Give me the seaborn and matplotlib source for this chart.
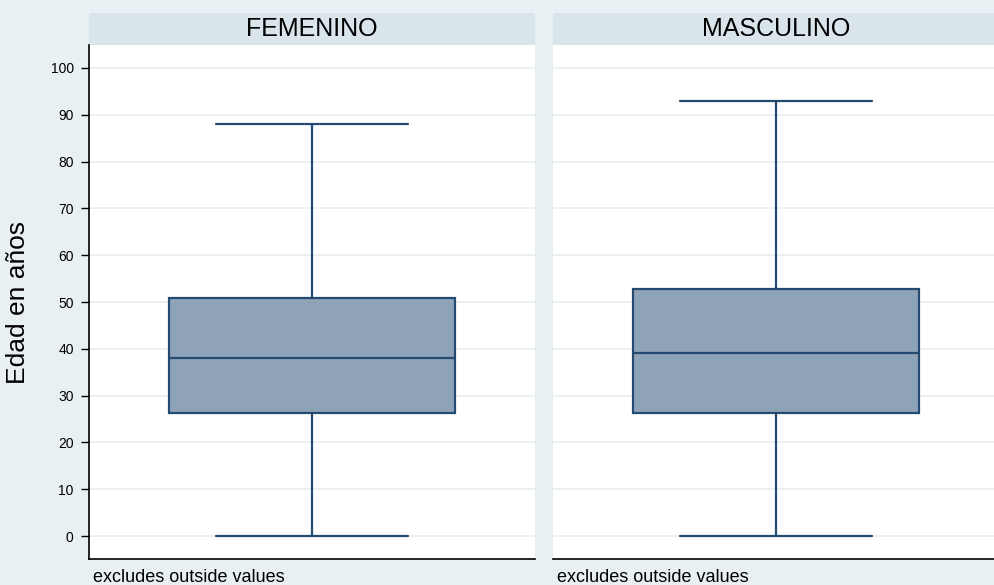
import numpy as np
import pandas as pd
import matplotlib.pyplot as plt
import seaborn as sns
from matplotlib.patches import Rectangle

# five-number summaries (min, q1, median, q3, max)
sexo = ["FEMENINO", "MASCULINO"]
edad_fem = [0, 26.3, 38.0, 50.85, 88]
edad_masc = [0, 26.3, 39.1, 52.8, 93]
yticks = list(range(0, 101, 10))

df = pd.DataFrame({
    "sexo": [sexo[0]] * len(edad_fem) + [sexo[1]] * len(edad_masc),
    "edad": edad_fem + edad_masc,
})

sns.set_style("white")
plt.rcParams["font.family"] = ["Liberation Sans", "DejaVu Sans"]
plt.rcParams["text.color"] = "black"

bg = "#e9f0f3"
strip = "#d9e5eb"
fill = "#8ea3b8"
edge = "#244a70"

fig = plt.figure(figsize=(9.94, 5.85), dpi=100, facecolor=bg)
W, H = 994, 585
bot, top = 559, 45
ax1 = fig.add_axes([89 / W, (H - bot) / H, (535 - 89) / W, (bot - top) / H])
ax2 = fig.add_axes([553 / W, (H - bot) / H, (999 - 553) / W, (bot - top) / H])

for ax, s in zip([ax1, ax2], sexo):
    sub = df[df["sexo"] == s]
    sns.boxplot(data=sub, y="edad", ax=ax, whis=(0, 100), width=0.64,
                color=fill, linecolor=edge, linewidth=1.6, saturation=1,
                capwidths=0.43)
    ax.set_facecolor("white")
    ax.set_ylim(-4.9, 104.9)
    ax.set_xlim(-0.5, 0.5)
    ax.set_yticks(yticks)
    ax.yaxis.grid(True, color="#e8eff2", lw=1.3)
    ax.set_axisbelow(True)
    ax.set_xticks([])
    ax.set_xlabel("")
    ax.set_ylabel("")
    for sp in ["top", "right"]:
        ax.spines[sp].set_visible(False)
    ax.spines["bottom"].set_color("black")
    ax.spines["bottom"].set_linewidth(1.2)
    # title strip above the panel
    ax.add_patch(Rectangle((0, 1), 1, 32 / (bot - top), transform=ax.transAxes,
                           facecolor=strip, edgecolor="none", clip_on=False))
    ax.text(0.5, 1 + 16 / (bot - top), s, transform=ax.transAxes,
            ha="center", va="center", fontsize=18, color="black")
    ax.text(4 / 446, -18 / (bot - top), "excludes outside values",
            transform=ax.transAxes, ha="left", va="center", fontsize=13)

ax1.spines["left"].set_color("black")
ax1.spines["left"].set_linewidth(1.2)
ax1.tick_params(axis="y", left=True, length=6, width=1, labelsize=10, pad=5,
                color="black", labelcolor="black")
ax2.spines["left"].set_visible(False)
ax2.tick_params(axis="y", left=False, labelleft=False)

fig.text(18 / W, (H - 302) / H, "Edad en años", rotation=90,
         ha="center", va="center", fontsize=19, color="black")

fig.savefig("out.png", dpi=100, facecolor=bg)
